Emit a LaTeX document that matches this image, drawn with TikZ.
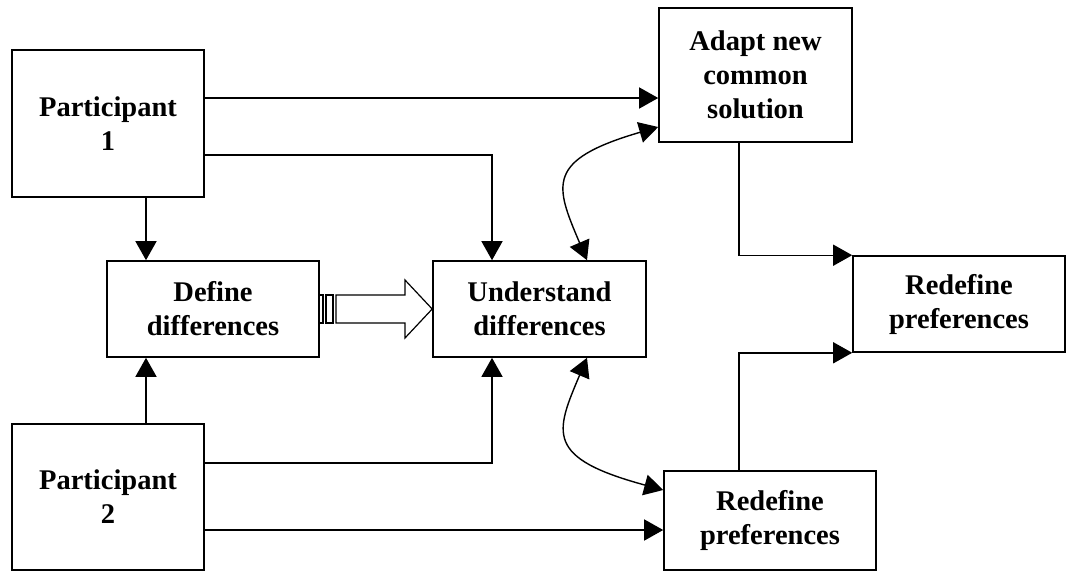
\documentclass[tikz,border=0pt]{standalone}
\usepackage{fontspec}
\setmainfont{Liberation Serif}
\usetikzlibrary{arrows.meta}
\begin{document}
\begin{tikzpicture}[x=1pt,y=-1pt,
  box/.style={draw, line width=1.6pt, rectangle, inner sep=0pt, align=center,
    font=\bfseries\fontsize{28.5}{34}\selectfont},
  tipshape/.tip={Triangle[length=19pt,width=21pt]},
  link/.style={line width=1.4pt, -tipshape},
  twoway/.style={line width=1.4pt, tipshape-tipshape},
  hollow/.style={line width=1.2pt}]
\useasboundingbox (0,0) rectangle (1066,571);

% boxes
\node[box, minimum width=192pt, minimum height=147pt] (p1) at (108,123.5) {Participant\\1};
\node[box, minimum width=192pt, minimum height=146pt] (p2) at (108,497) {Participant\\2};
\node[box, minimum width=212pt, minimum height=96pt] (def) at (213,309) {Define\\differences};
\node[box, minimum width=213pt, minimum height=96pt] (und) at (539.5,309) {Understand\\differences};
\node[box, minimum width=193pt, minimum height=134pt] (adapt) at (755.5,75) {Adapt new\\common\\solution};
\node[box, minimum width=212pt, minimum height=96pt] (redA) at (959,304) {Redefine\\preferences};
\node[box, minimum width=212pt, minimum height=99pt] (redB) at (770,520.5) {Redefine\\preferences};

% columns of the vertical connectors
\coordinate (colA) at (146,0);
\coordinate (colU) at (492,0);
\coordinate (colC) at (587,0);
\coordinate (colR) at (739,0);

% straight connectors
\draw[link] (p1.east |- 0,98) -- (adapt.west |- 0,98);
\draw[link] (p1.east |- 0,155) -| (colU |- und.north);
\draw[link] (colA |- p1.south) -- (colA |- def.north);
\draw[link] (colA |- p2.north) -- (colA |- def.south);
\draw[link] (p2.east |- 0,463) -| (colU |- und.south);
\draw[link] (p2.east |- 0,530) -- (redB.west |- 0,530);
\draw[link] (colR |- adapt.south) |- (redA.north west);
\draw[link] (colR |- redB.north) |- (redA.south west);

% two-way curved connectors
\draw[twoway] (colC |- und.north) .. controls (555,185) and (545,160) .. (adapt.west |- 0,127);
\draw[twoway] (colC |- und.south) .. controls (555,433) and (545,458) .. (redB.west |- 0,490);

% hollow block arrow from Define to Understand
\draw[hollow] (336,295) -- (405,295) -- (405,280) -- (und.west) -- (405,338) -- (405,323) -- (336,323) -- cycle;
\draw[hollow] (def.east |- 0,295) rectangle (323,323);
\draw[hollow] (326,295) rectangle (333,323);
\end{tikzpicture}
\end{document}
